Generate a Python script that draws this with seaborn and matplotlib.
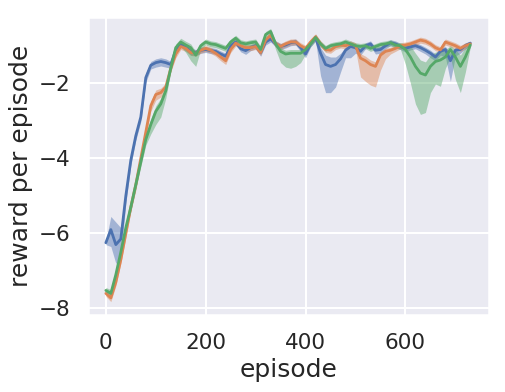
import numpy as np
import pandas as pd
import matplotlib
matplotlib.use("Agg")
import matplotlib.pyplot as plt
import seaborn as sns

episodes = list(range(0, 731, 10))

blue_mean = [-6.25, -5.9, -6.3, -6.15, -5.0, -4.05, -3.4, -2.9, -1.85, -1.52,
             -1.45, -1.42, -1.45, -1.5, -1.12, -0.95, -1.05, -1.15, -1.18, -1.12,
             -1.1, -1.13, -1.15, -1.22, -1.28, -1.0, -0.9, -1.08, -1.13, -1.05,
             -1.0, -1.18, -0.9, -0.82, -0.95, -1.02, -0.98, -0.92, -0.9, -1.05,
             -1.22, -0.95, -0.78, -1.2, -1.5, -1.55, -1.5, -1.35, -1.12, -1.02,
             -1.05, -1.15, -1.0, -0.95, -1.12, -1.1, -1.0, -0.92, -0.95, -1.02,
             -1.07, -1.03, -1.0, -1.05, -1.12, -1.2, -1.3, -1.15, -1.1, -1.4,
             -1.12, -1.1, -1.0, -0.93]
blue_err_lo = [0.05, 0.45, 0.5, 0.45, 0.2, 0.15, 0.12, 0.12, 0.12, 0.1,
               0.12, 0.12, 0.12, 0.1, 0.1, 0.08, 0.08, 0.1, 0.08, 0.08,
               0.08, 0.08, 0.08, 0.08, 0.1, 0.08, 0.08, 0.08, 0.1, 0.08,
               0.08, 0.1, 0.08, 0.08, 0.08, 0.08, 0.08, 0.08, 0.08, 0.1,
               0.1, 0.08, 0.1, 0.6, 0.75, 0.7, 0.6, 0.35, 0.2, 0.3,
               0.15, 0.1, 0.08, 0.08, 0.1, 0.1, 0.08, 0.08, 0.08, 0.08,
               0.1, 0.08, 0.08, 0.1, 0.1, 0.12, 0.1, 0.1, 0.2, 0.55,
               0.15, 0.1, 0.08, 0.05]
blue_err_hi = [0.05, 0.35, 0.6, 0.3, 0.15, 0.12, 0.12, 0.12, 0.12, 0.1,
               0.1, 0.1, 0.1, 0.08, 0.08, 0.08, 0.08, 0.08, 0.08, 0.08,
               0.08, 0.08, 0.08, 0.08, 0.08, 0.08, 0.08, 0.08, 0.08, 0.08,
               0.08, 0.08, 0.08, 0.08, 0.08, 0.08, 0.08, 0.08, 0.08, 0.08,
               0.08, 0.08, 0.08, 0.15, 0.25, 0.25, 0.2, 0.15, 0.08, 0.08,
               0.08, 0.08, 0.08, 0.08, 0.08, 0.08, 0.08, 0.08, 0.08, 0.08,
               0.08, 0.08, 0.08, 0.08, 0.08, 0.08, 0.08, 0.08, 0.08, 0.2,
               0.08, 0.08, 0.08, 0.05]

orange_mean = [-7.6, -7.72, -7.3, -6.7, -6.0, -5.3, -4.7, -4.0, -3.3, -2.6,
               -2.3, -2.25, -2.1, -1.6, -1.22, -1.02, -1.07, -1.18, -1.2, -1.12,
               -1.07, -1.12, -1.2, -1.3, -1.4, -1.1, -0.93, -1.0, -1.05, -1.05,
               -1.02, -1.18, -0.85, -0.72, -0.95, -1.02, -0.95, -0.9, -0.9, -1.0,
               -1.07, -0.9, -0.76, -0.95, -1.1, -1.12, -1.02, -0.98, -1.0, -0.95,
               -1.0, -1.33, -1.4, -1.5, -1.55, -1.25, -1.15, -1.12, -1.07, -1.0,
               -0.98, -0.95, -0.9, -0.85, -0.88, -0.95, -1.05, -1.11, -0.9, -0.95,
               -1.0, -1.07, -1.0, -0.95]
orange_err_lo = [0.08, 0.1, 0.1, 0.1, 0.12, 0.12, 0.15, 0.15, 0.15, 0.15,
                 0.15, 0.12, 0.12, 0.1, 0.1, 0.08, 0.08, 0.08, 0.08, 0.08,
                 0.08, 0.08, 0.08, 0.1, 0.1, 0.08, 0.08, 0.08, 0.08, 0.08,
                 0.08, 0.08, 0.08, 0.08, 0.08, 0.08, 0.08, 0.08, 0.08, 0.08,
                 0.08, 0.08, 0.08, 0.08, 0.08, 0.08, 0.08, 0.08, 0.08, 0.08,
                 0.1, 0.5, 0.55, 0.55, 0.55, 0.4, 0.2, 0.1, 0.08, 0.08,
                 0.08, 0.08, 0.08, 0.08, 0.08, 0.08, 0.08, 0.08, 0.08, 0.08,
                 0.08, 0.08, 0.08, 0.05]
orange_err_hi = [0.08, 0.1, 0.1, 0.12, 0.15, 0.15, 0.15, 0.15, 0.15, 0.12,
                 0.12, 0.12, 0.1, 0.1, 0.08, 0.08, 0.08, 0.08, 0.08, 0.08,
                 0.08, 0.08, 0.08, 0.08, 0.08, 0.08, 0.08, 0.08, 0.08, 0.08,
                 0.08, 0.08, 0.08, 0.08, 0.08, 0.08, 0.08, 0.08, 0.08, 0.08,
                 0.08, 0.08, 0.08, 0.08, 0.08, 0.08, 0.08, 0.08, 0.08, 0.08,
                 0.08, 0.12, 0.12, 0.12, 0.12, 0.1, 0.08, 0.08, 0.08, 0.08,
                 0.08, 0.08, 0.08, 0.08, 0.08, 0.08, 0.08, 0.08, 0.08, 0.08,
                 0.08, 0.08, 0.08, 0.05]

green_mean = [-7.52, -7.6, -7.1, -6.5, -5.85, -5.3, -4.7, -4.1, -3.5, -3.1,
              -2.75, -2.55, -2.2, -1.6, -1.05, -0.9, -0.98, -1.05, -1.25, -1.0,
              -0.9, -0.95, -0.97, -1.02, -1.07, -0.9, -0.8, -0.92, -0.95, -0.92,
              -0.9, -1.1, -0.7, -0.62, -0.95, -1.15, -1.22, -1.2, -1.2, -1.2,
              -1.1, -0.95, -0.78, -0.95, -1.07, -1.0, -0.97, -0.95, -0.9, -0.95,
              -1.0, -1.02, -1.0, -1.07, -1.02, -0.97, -0.95, -0.92, -0.98, -1.0,
              -1.1, -1.3, -1.55, -1.73, -1.78, -1.55, -1.42, -1.38, -1.3, -1.1,
              -1.3, -1.55, -1.3, -0.98]
green_err_lo = [0.08, 0.1, 0.1, 0.1, 0.1, 0.12, 0.12, 0.12, 0.15, 0.25,
                0.35, 0.35, 0.2, 0.1, 0.1, 0.12, 0.2, 0.35, 0.3, 0.1,
                0.08, 0.08, 0.08, 0.08, 0.08, 0.08, 0.08, 0.08, 0.08, 0.08,
                0.08, 0.08, 0.08, 0.08, 0.15, 0.3, 0.35, 0.4, 0.35, 0.25,
                0.12, 0.08, 0.08, 0.08, 0.08, 0.08, 0.08, 0.08, 0.08, 0.08,
                0.08, 0.08, 0.08, 0.08, 0.08, 0.08, 0.08, 0.08, 0.08, 0.1,
                0.4, 0.7, 1.0, 1.1, 1.0, 0.7, 0.6, 0.7, 0.3, 0.2,
                0.6, 0.7, 0.4, 0.05]
green_err_hi = [0.08, 0.1, 0.1, 0.1, 0.1, 0.12, 0.12, 0.12, 0.15, 0.15,
                0.15, 0.15, 0.12, 0.1, 0.1, 0.1, 0.1, 0.1, 0.1, 0.08,
                0.08, 0.08, 0.08, 0.08, 0.08, 0.08, 0.08, 0.08, 0.08, 0.08,
                0.08, 0.08, 0.08, 0.08, 0.08, 0.1, 0.1, 0.1, 0.1, 0.1,
                0.08, 0.08, 0.08, 0.08, 0.08, 0.08, 0.08, 0.08, 0.08, 0.08,
                0.08, 0.08, 0.08, 0.08, 0.08, 0.08, 0.08, 0.08, 0.08, 0.08,
                0.15, 0.3, 0.35, 0.35, 0.35, 0.3, 0.25, 0.25, 0.2, 0.1,
                0.2, 0.3, 0.25, 0.05]

series_names = ["a", "b", "c"]
means = [blue_mean, orange_mean, green_mean]
errs_lo = [blue_err_lo, orange_err_lo, green_err_lo]
errs_hi = [blue_err_hi, orange_err_hi, green_err_hi]

sns.set_theme(style="darkgrid", context="talk")
palette = sns.color_palette("deep")

fig, ax = plt.subplots(figsize=(5.05, 3.92), dpi=100)
fig.subplots_adjust(left=0.174, right=0.968, top=0.957, bottom=0.196)

rows = []
for name, m in zip(series_names, means):
    for e, v in zip(episodes, m):
        rows.append({"episode": e, "reward": v, "run": name})
df = pd.DataFrame(rows)

x = np.array(episodes)
for i, (m, lo, hi) in enumerate(zip(means, errs_lo, errs_hi)):
    m = np.array(m)
    ax.fill_between(x, m - np.array(lo), m + np.array(hi), color=palette[i],
                    alpha=0.45, linewidth=0)

sns.lineplot(data=df, x="episode", y="reward", hue="run", palette=palette[:3],
             linewidth=2, ax=ax, legend=False)

ax.set_xlabel("episode", fontsize=18)
ax.set_ylabel("reward per episode", fontsize=18)
ax.tick_params(labelsize=15.5)
ax.set_xticks([0, 200, 400, 600])
ax.set_yticks([-8, -6, -4, -2])
ax.set_xlim(-36, 767)
ax.set_ylim(-8.18, -0.23)

fig.savefig("out.png", dpi=100)
